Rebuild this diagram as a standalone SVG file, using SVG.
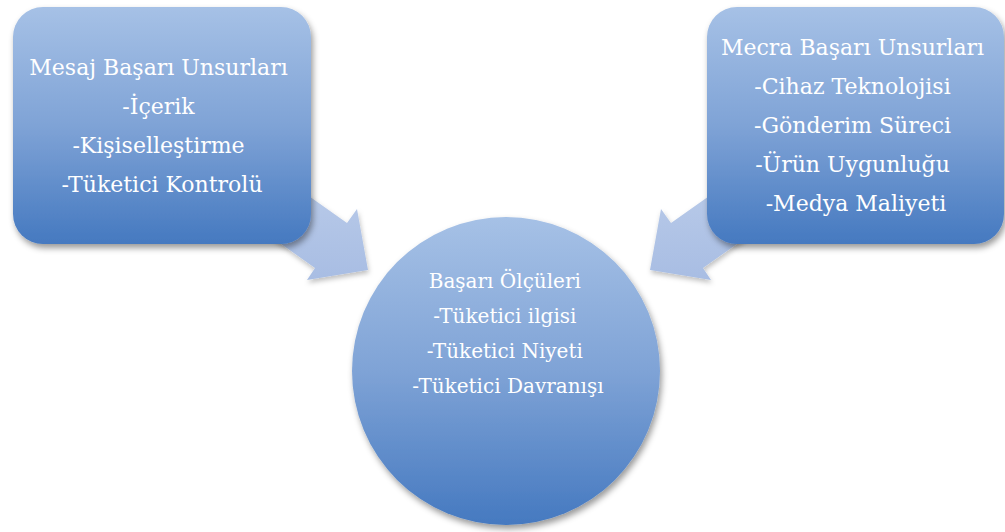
<svg xmlns="http://www.w3.org/2000/svg" width="1005" height="532" viewBox="0 0 1005 532">
  <defs>
    <linearGradient id="nodeFill" x1="0" y1="0" x2="0" y2="1">
      <stop offset="0" stop-color="#a6c1e6"/>
      <stop offset="0.5" stop-color="#7fa3d6"/>
      <stop offset="1" stop-color="#4579c0"/>
    </linearGradient>
    <linearGradient id="arrowFill" x1="0" y1="0" x2="0" y2="1">
      <stop offset="0" stop-color="#bccdea"/>
      <stop offset="1" stop-color="#a8bde3"/>
    </linearGradient>
    <filter id="shadow" x="-10%" y="-10%" width="125%" height="130%">
      <feDropShadow dx="2" dy="4" stdDeviation="3" flood-color="#000" flood-opacity="0.4"/>
    </filter>
    <filter id="softShadow" x="-10%" y="-10%" width="125%" height="130%">
      <feDropShadow dx="1" dy="3" stdDeviation="2.5" flood-color="#000" flood-opacity="0.25"/>
    </filter>
  </defs>
  <style>
    .node { fill: url(#nodeFill); filter: url(#shadow); }
    .arrow { fill: url(#arrowFill); filter: url(#softShadow); }
    .label { font-family: "DejaVu Serif", "Liberation Serif", serif; fill: #ffffff; text-anchor: middle; }
    .big { font-size: 22px; }
    .small { font-size: 20px; }
  </style>

  <rect width="1005" height="532" fill="#ffffff"/>

  <g id="connectors">
    <polygon class="arrow" points="265,165 347,223 357,209 368,270 307,280 315,268 233,210"/>
    <polygon class="arrow" points="753,165 671,223 661,209 650,270 711,280 703,268 785,210"/>
  </g>

  <g id="mesaj">
    <rect class="node" x="13" y="7" width="298" height="237" rx="30" ry="30"/>
    <text class="label big">
      <tspan x="162" y="75">Mesaj Başarı Unsurları</tspan>
      <tspan x="162" y="114">-İçerik</tspan>
      <tspan x="162" y="153">-Kişiselleştirme</tspan>
      <tspan x="162" y="192">-Tüketici Kontrolü</tspan>
    </text>
  </g>

  <g id="mecra">
    <rect class="node" x="707" y="7" width="297" height="237" rx="30" ry="30"/>
    <text class="label big">
      <tspan x="856" y="55">Mecra Başarı Unsurları</tspan>
      <tspan x="856" y="94">-Cihaz Teknolojisi</tspan>
      <tspan x="856" y="133">-Gönderim Süreci</tspan>
      <tspan x="856" y="172">-Ürün Uygunluğu</tspan>
      <tspan x="856" y="211">-Medya Maliyeti</tspan>
    </text>
  </g>

  <g id="olculer">
    <circle class="node" cx="506" cy="371" r="154"/>
    <text class="label small">
      <tspan x="508" y="288">Başarı Ölçüleri</tspan>
      <tspan x="508" y="323">-Tüketici ilgisi</tspan>
      <tspan x="508" y="358">-Tüketici Niyeti</tspan>
      <tspan x="508" y="393">-Tüketici Davranışı</tspan>
    </text>
  </g>
</svg>
